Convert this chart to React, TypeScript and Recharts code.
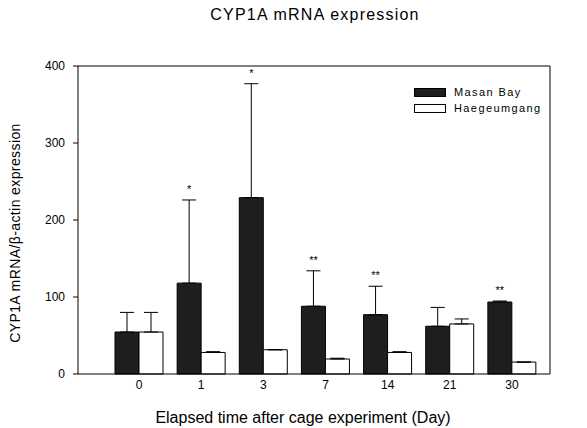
import React from 'react';
import { ComposedChart, Bar, XAxis, YAxis, ErrorBar, LabelList } from 'recharts';

const days = ['0', '1', '3', '7', '14', '21', '30'];
const masanBay = [54.5, 118, 229, 88, 77, 62, 93.5];
const masanBayErr = [25.5, 108, 148, 46, 37, 24.5, 1.3];
const haegeumgang = [54.5, 28, 31.5, 19.5, 28, 65, 15.5];
const haegeumgangErr = [25.5, 1, 0, 1, 1, 6.5, 0];
const significance = ['', '*', '*', '**', '**', '', '**'];
const yTicks = [0, 100, 200, 300, 400];

const rows = days.map((d, i) => ({
  day: d,
  masan: masanBay[i],
  masanErr: [0, masanBayErr[i]],
  haeg: haegeumgang[i],
  haegErr: [0, haegeumgangErr[i]],
  sig: significance[i],
}));

const FONT = 'Arial, "Liberation Sans", sans-serif';
const DARK = '#1e1e1e';

const StarLabel = (props: any) => {
  const { index, value } = props;
  if (!value) return null;
  const vb = props.viewBox ?? props;
  const x = vb.x ?? props.x;
  const y = vb.y ?? props.y;
  const w = vb.width ?? props.width;
  const h = vb.height ?? props.height;
  const v = masanBay[index];
  const pxPer = h / v;
  const base = y + h;
  const topPx = base - (v + masanBayErr[index]) * pxPer;
  return (
    <text x={x + w / 2} y={topPx - 7} textAnchor="middle" fontSize={11} fontFamily={FONT} fill="#000">
      {value}
    </text>
  );
};

const LegendBox = () => (
  <div
    style={{
      position: 'absolute',
      left: 414,
      top: 84,
      fontFamily: FONT,
      fontSize: 11,
      letterSpacing: 1.4,
      color: '#000',
      lineHeight: '16px',
    }}
  >
    <div style={{ display: 'flex', alignItems: 'center', height: 16 }}>
      <div style={{ width: 30, height: 7, background: DARK, border: '1px solid #000', marginRight: 8 }} />
      <span>Masan Bay</span>
    </div>
    <div style={{ display: 'flex', alignItems: 'center', height: 16 }}>
      <div style={{ width: 30, height: 7, background: '#fff', border: '1px solid #000', marginRight: 8 }} />
      <span>Haegeumgang</span>
    </div>
  </div>
);

export default function App() {
  return (
    <div style={{ position: 'absolute', left: 0, top: 0, width: 587, height: 428, background: '#fff' }}>
      <ComposedChart
        width={587}
        height={428}
        data={rows}
        margin={{ top: 65, right: 36, bottom: 24, left: 18 }}
        barGap={0}
      >
        <XAxis
          dataKey="day"
          xAxisId={0}
          padding={{ left: 30, right: 7 }}
          tickLine={false}
          tickSize={0}
          tickMargin={6}
          height={30}
          axisLine={{ stroke: '#000' }}
          tick={{ fill: '#000', fontSize: 12, fontFamily: FONT }}
        />
        <XAxis
          dataKey="day"
          xAxisId="top"
          orientation="top"
          tick={false}
          tickLine={false}
          height={1}
          axisLine={{ stroke: '#000' }}
        />
        <YAxis
          yAxisId={0}
          domain={[0, 400]}
          ticks={yTicks}
          width={60}
          tickSize={5}
          tickMargin={8}
          axisLine={{ stroke: '#000' }}
          tickLine={{ stroke: '#000' }}
          tick={{ fill: '#000', fontSize: 12, fontFamily: FONT }}
        />
        <YAxis
          yAxisId="right"
          orientation="right"
          domain={[0, 400]}
          tick={false}
          tickLine={false}
          width={1}
          axisLine={{ stroke: '#000' }}
        />
        <Bar dataKey="masan" name="Masan Bay" fill={DARK} stroke="#000" barSize={24} isAnimationActive={false}>
          <ErrorBar dataKey="masanErr" width={7} stroke="#000" strokeWidth={1} direction="y" />
          <LabelList dataKey="sig" content={<StarLabel />} />
        </Bar>
        <Bar dataKey="haeg" name="Haegeumgang" fill="#fff" stroke="#000" barSize={24} isAnimationActive={false}>
          <ErrorBar dataKey="haegErr" width={7} stroke="#000" strokeWidth={1} direction="y" />
        </Bar>
      </ComposedChart>
      <LegendBox />
      <svg width={587} height={428} style={{ position: 'absolute', left: 0, top: 0, pointerEvents: 'none' }}>
        <text x={315} y={20} textAnchor="middle" fontSize={16} letterSpacing={1.2} fontFamily={FONT} fill="#000">
          CYP1A mRNA expression
        </text>
        <text
          x={15}
          y={233}
          textAnchor="middle"
          dominantBaseline="central"
          transform="rotate(-90 15 233)"
          fontSize={14}
          letterSpacing={0.4}
          fontFamily={FONT}
          fill="#000"
        >
          CYP1A mRNA/β-actin expression
        </text>
        <text x={303} y={423} textAnchor="middle" fontSize={16} fontFamily={FONT} fill="#000">
          Elapsed time after cage experiment (Day)
        </text>
      </svg>
    </div>
  );
}
